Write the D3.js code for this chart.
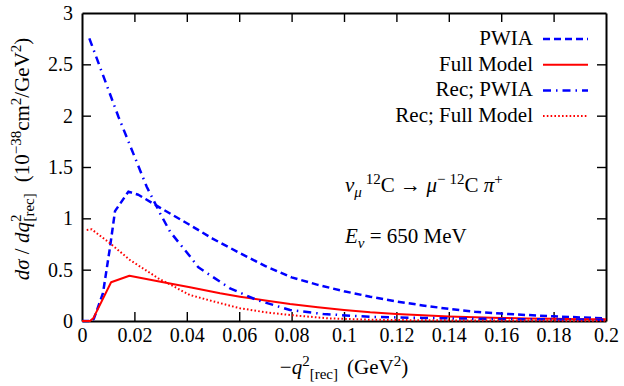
<!DOCTYPE html>
<html>
<head>
<meta charset="utf-8">
<script src="https://cdn.jsdelivr.net/npm/d3@7"></script>
</head>
<body style="margin:0; background:#fff">
<svg id="chart" width="624" height="386"></svg>
<script>
// values, x = -q^2_rec (GeV^2), y = dsigma/dq^2 (1e-38 cm^2/GeV^2)
var xTicks = [0, 0.02, 0.04, 0.06, 0.08, 0.1, 0.12, 0.14, 0.16, 0.18, 0.2]
var yTicks = [0, 0.5, 1, 1.5, 2, 2.5, 3]

var pwiaX = [0, 0.003, 0.0045, 0.008, 0.0107, 0.0126, 0.0177, 0.0215, 0.03, 0.0412, 0.05, 0.06, 0.07, 0.08, 0.09, 0.1, 0.11, 0.12, 0.13, 0.14, 0.15, 0.16, 0.17, 0.18, 0.19, 0.2]
var pwiaY = [0, 0, 0.02, 0.27, 0.72, 1.07, 1.26, 1.23, 1.1, 0.935, 0.8, 0.665, 0.535, 0.425, 0.352, 0.29, 0.237, 0.19, 0.152, 0.118, 0.09, 0.072, 0.058, 0.046, 0.035, 0.026]

var fullX = [0, 0.003, 0.0043, 0.0111, 0.0181, 0.03, 0.0412, 0.0527, 0.0603, 0.07, 0.0794, 0.09, 0.1, 0.11, 0.12, 0.13, 0.14, 0.15, 0.16, 0.17, 0.18, 0.19, 0.2]
var fullY = [0, 0, 0.026, 0.377, 0.441, 0.383, 0.328, 0.27, 0.237, 0.2, 0.166, 0.134, 0.108, 0.085, 0.068, 0.055, 0.045, 0.036, 0.03, 0.025, 0.021, 0.018, 0.016]

var recPwiaX = [0.0028, 0.0139, 0.0247, 0.0298, 0.0336, 0.0412, 0.0444, 0.0469, 0.0565, 0.0667, 0.0794, 0.0921, 0.11, 0.13, 0.15, 0.17, 0.2]
var recPwiaY = [2.753, 1.99, 1.308, 1.049, 0.87, 0.63, 0.523, 0.48, 0.318, 0.205, 0.107, 0.068, 0.04, 0.03, 0.022, 0.017, 0.012]

var recFullX = [0.0018, 0.0037, 0.0107, 0.0183, 0.0291, 0.0412, 0.0444, 0.0527, 0.0603, 0.07, 0.0794, 0.094, 0.11, 0.13, 0.15, 0.2]
var recFullY = [0.886, 0.893, 0.757, 0.594, 0.416, 0.253, 0.231, 0.174, 0.124, 0.085, 0.058, 0.026, 0.012, 0.007, 0.005, 0.003]

var series = [
  {name: "PWIA", xs: pwiaX, ys: pwiaY, color: "#0000ff", width: 2.5, dash: "7,4"},
  {name: "Full Model", xs: fullX, ys: fullY, color: "#ff0000", width: 2, dash: null},
  {name: "Rec; PWIA", xs: recPwiaX, ys: recPwiaY, color: "#0000ff", width: 2.5, dash: "8,5,1.5,5"},
  {name: "Rec; Full Model", xs: recFullX, ys: recFullY, color: "#ff0000", width: 2, dash: "1.6,2.2"}
]

// one quoted family name and whole-pixel sizes, set on every text node
var FONT = "'Liberation Serif'"
var FS = 21
var TICK_FS = 20

var svg = d3.select("#chart"),
  margin = {top: 13, right: 18, bottom: 65, left: 82},
  width = +svg.attr("width") - margin.left - margin.right,
  height = +svg.attr("height") - margin.top - margin.bottom

var x = d3.scaleLinear().domain([0, 0.2]).range([0, width])
var y = d3.scaleLinear().domain([0, 3]).range([height, 0])

var g = svg.append("g")
  .attr("transform", "translate(" + margin.left + "," + margin.top + ")")

// axes, ticks pointing inward on all four sides
g.append("g").attr("class", "axis")
  .attr("transform", "translate(0," + height + ")")
  .call(d3.axisBottom(x).tickValues(xTicks).tickFormat(function(d) { return String(d) })
    .tickSizeInner(-9).tickSizeOuter(0).tickPadding(7))
g.append("g").attr("class", "axis")
  .call(d3.axisTop(x).tickValues(xTicks).tickFormat("").tickSizeInner(-9).tickSizeOuter(0))
g.append("g").attr("class", "axis")
  .call(d3.axisLeft(y).tickValues(yTicks).tickFormat(function(d) { return String(d) })
    .tickSizeInner(-9).tickSizeOuter(0).tickPadding(9))
g.append("g").attr("class", "axis")
  .attr("transform", "translate(" + width + ",0)")
  .call(d3.axisRight(y).tickValues(yTicks).tickFormat("").tickSizeInner(-9).tickSizeOuter(0))

g.selectAll(".axis").attr("font-family", FONT).attr("font-size", TICK_FS)
g.selectAll(".axis text")
  .attr("font-family", FONT)
  .attr("font-size", TICK_FS)
  .attr("fill", "#000")
g.selectAll(".axis line").attr("stroke", "#000").attr("stroke-width", 1.4)
g.selectAll(".axis path").attr("stroke", "#000").attr("stroke-width", 2)
// first/last ticks sit on the frame
g.selectAll(".axis .tick line").filter(function(d) { return d === 0 || d === 0.2 || d === 3 }).remove()

var line = d3.line()
  .x(function(d) { return x(d[0]) })
  .y(function(d) { return y(d[1]) })

series.forEach(function(s) {
  var pts = s.xs.map(function(v, i) { return [v, s.ys[i]] })
  g.append("path")
    .datum(pts)
    .attr("fill", "none")
    .attr("stroke", s.color)
    .attr("stroke-width", s.width)
    .attr("stroke-dasharray", s.dash)
    .attr("stroke-linejoin", "round")
    .attr("d", line)
})

// legend
var leg = g.append("g").attr("transform", "translate(" + (width - 73) + ",32)")
series.forEach(function(s, i) {
  var row = leg.append("g").attr("transform", "translate(0," + (i * 25.7) + ")")
  row.append("text")
    .attr("x", 0).attr("y", 0)
    .attr("text-anchor", "end")
    .attr("font-family", FONT)
    .attr("font-size", FS)
    .text(s.name)
  row.append("line")
    .attr("x1", 10).attr("x2", 55)
    .attr("y1", -6).attr("y2", -6)
    .attr("stroke", s.color)
    .attr("stroke-width", s.width)
    .attr("stroke-dasharray", s.dash)
})

// rich text helper: parts of {t, i (italic), s ('sup'|'sub'), dx}
function rich(sel, parts, size) {
  var cur = 0
  sel.attr("font-family", FONT).attr("font-size", size)
  parts.forEach(function(p) {
    var off = p.s === "sup" ? -8 : p.s === "sub" ? 5 : 0
    var ts = sel.append("tspan")
      .attr("dy", off - cur)
      .attr("font-family", FONT)
      .attr("font-size", p.s ? Math.round(size * 0.7) : size)
      .attr("font-style", p.i ? "italic" : "normal")
      .text(p.t)
    if (p.dx) ts.attr("dx", p.dx)
    cur = off
  })
}

// x label (subscript follows the exponent so the two do not collide)
var xl = svg.append("text")
  .attr("x", margin.left + width / 2)
  .attr("y", 374)
  .attr("text-anchor", "middle")
rich(xl, [
  {t: "\u2212"}, {t: "q", i: true}, {t: "2", s: "sup"}, {t: "[rec]", s: "sub"},
  {t: "(GeV", dx: 9}, {t: "2", s: "sup"}, {t: ")"}
], FS)

// y label
var yl = svg.append("text")
  .attr("transform", "translate(29," + (margin.top + 146) + ") rotate(-90)")
  .attr("text-anchor", "middle")
rich(yl, [
  {t: "d\u03c3", i: true}, {t: " / "}, {t: "dq", i: true}, {t: "2", s: "sup"},
  {t: "[rec]", s: "sub", dx: -7},
  {t: "(10", dx: 11}, {t: "\u221238", s: "sup"}, {t: "cm"}, {t: "2", s: "sup"},
  {t: "/GeV"}, {t: "2", s: "sup"}, {t: ")"}
], FS)

// annotations
var a1 = svg.append("text").attr("x", 345).attr("y", 192)
rich(a1, [
  {t: "\u03bd", i: true}, {t: "\u03bc", i: true, s: "sub"}, {t: "12", s: "sup", dx: 4}, {t: "C \u2192 "},
  {t: "\u03bc", i: true}, {t: "\u2212", s: "sup"}, {t: "12", s: "sup", dx: 4}, {t: "C "},
  {t: "\u03c0", i: true}, {t: "+", s: "sup"}
], FS)

var a2 = svg.append("text").attr("x", 345).attr("y", 243)
rich(a2, [
  {t: "E", i: true}, {t: "\u03bd", i: true, s: "sub"}, {t: " = 650 MeV"}
], FS)
</script>
</body>
</html>
